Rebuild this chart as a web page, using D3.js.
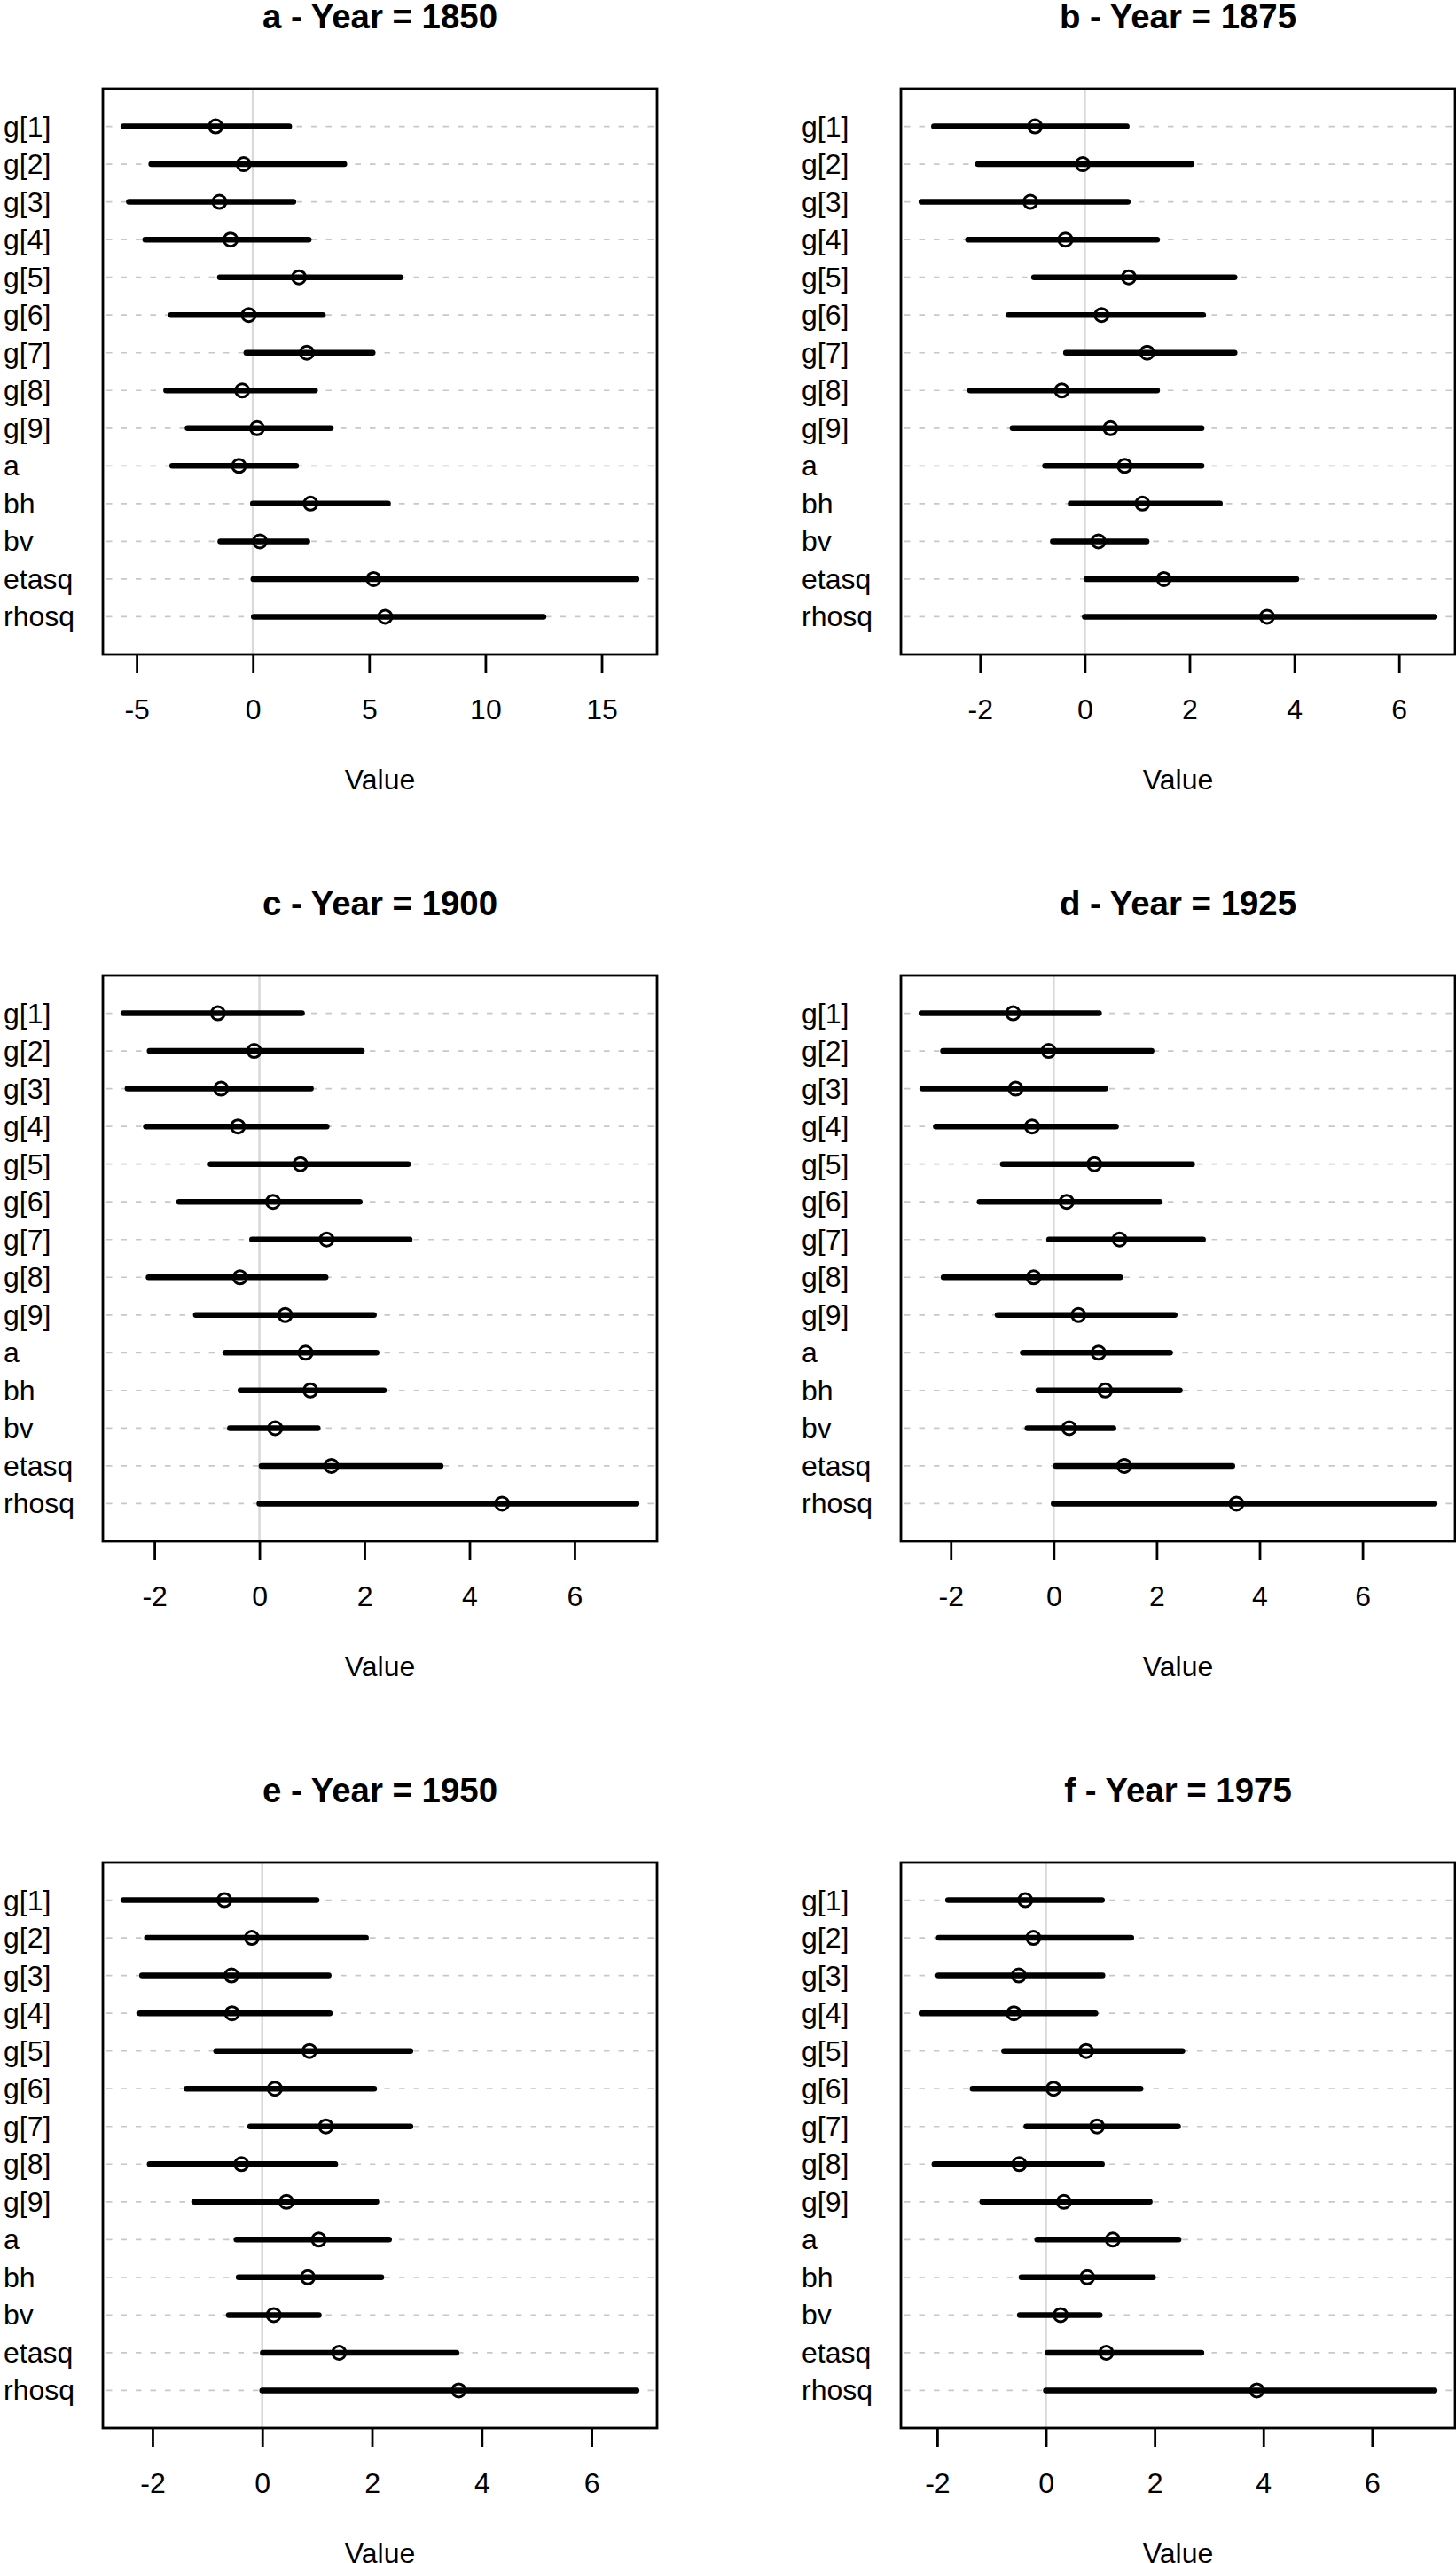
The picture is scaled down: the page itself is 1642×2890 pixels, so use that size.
<!DOCTYPE html>
<html>
<head>
<meta charset="utf-8">
<script src="https://cdn.jsdelivr.net/npm/d3@7"></script>
<style>
  html, body { margin: 0; padding: 0; background: #fff; }
  svg { display: block; }
  text { font-family: "Liberation Sans", Arial, Helvetica, sans-serif; fill: #000; }
</style>
</head>
<body>
<svg id="chart"></svg>
<script>
// parameters, listed top to bottom
const params = ['g[1]', 'g[2]', 'g[3]', 'g[4]', 'g[5]', 'g[6]', 'g[7]', 'g[8]', 'g[9]',
  'a', 'bh', 'bv', 'etasq', 'rhosq'];

const letters = ['a', 'b', 'c', 'd', 'e', 'f'];
const years = [1850, 1875, 1900, 1925, 1950, 1975];

// posterior means and interval bounds
const mean1850 = [-1.60, -0.40, -1.44, -0.96, 1.98, -0.18, 2.32, -0.46, 0.18, -0.60, 2.48, 0.30, 5.19, 5.69];
const lower1850 = [-5.57, -4.37, -5.33, -4.63, -1.42, -3.53, -0.28, -3.73, -2.81, -3.47, 0.00, -1.40, 0.02, 0.04];
const upper1850 = [1.56, 3.93, 1.74, 2.40, 6.35, 3.01, 5.15, 2.67, 3.35, 1.86, 5.81, 2.34, 16.50, 12.50];

const mean1875 = [-0.95, -0.04, -1.04, -0.37, 0.84, 0.32, 1.19, -0.44, 0.49, 0.76, 1.10, 0.26, 1.51, 3.48];
const lower1875 = [-2.88, -2.04, -3.12, -2.23, -0.97, -1.46, -0.36, -2.19, -1.38, -0.76, -0.27, -0.61, 0.03, 0.00];
const upper1875 = [0.80, 2.04, 0.82, 1.38, 2.86, 2.26, 2.86, 1.38, 2.23, 2.23, 2.58, 1.18, 4.04, 6.68];

const mean1900 = [-0.79, -0.10, -0.73, -0.41, 0.78, 0.26, 1.28, -0.37, 0.49, 0.88, 0.97, 0.30, 1.37, 4.62];
const lower1900 = [-2.59, -2.09, -2.51, -2.16, -0.93, -1.53, -0.14, -2.11, -1.21, -0.65, -0.36, -0.56, 0.04, 0.00];
const upper1900 = [0.81, 1.95, 0.98, 1.28, 2.83, 1.91, 2.86, 1.26, 2.18, 2.23, 2.37, 1.11, 3.45, 7.18];

const mean1925 = [-0.79, -0.10, -0.74, -0.42, 0.79, 0.25, 1.28, -0.39, 0.48, 0.87, 1.00, 0.30, 1.37, 3.55];
const lower1925 = [-2.57, -2.15, -2.55, -2.29, -0.99, -1.44, -0.09, -2.14, -1.09, -0.60, -0.30, -0.51, 0.04, 0.00];
const upper1925 = [0.88, 1.90, 1.00, 1.21, 2.69, 2.06, 2.90, 1.29, 2.35, 2.26, 2.45, 1.16, 3.47, 7.40];

const mean1950 = [-0.69, -0.19, -0.56, -0.55, 0.86, 0.23, 1.16, -0.38, 0.44, 1.03, 0.83, 0.21, 1.40, 3.58];
const lower1950 = [-2.53, -2.10, -2.19, -2.23, -0.84, -1.38, -0.22, -2.05, -1.24, -0.47, -0.43, -0.61, 0.01, 0.00];
const upper1950 = [0.99, 1.89, 1.21, 1.23, 2.70, 2.04, 2.70, 1.33, 2.08, 2.31, 2.17, 1.03, 3.54, 6.82];

const mean1975 = [-0.38, -0.23, -0.50, -0.59, 0.74, 0.14, 0.94, -0.49, 0.33, 1.23, 0.76, 0.27, 1.11, 3.88];
const lower1975 = [-1.80, -1.97, -1.98, -2.29, -0.77, -1.35, -0.36, -2.05, -1.17, -0.16, -0.45, -0.48, 0.03, 0.00];
const upper1975 = [1.03, 1.57, 1.04, 0.91, 2.51, 1.74, 2.43, 1.03, 1.91, 2.44, 1.97, 0.99, 2.86, 7.15];

const means = [mean1850, mean1875, mean1900, mean1925, mean1950, mean1975];
const lowers = [lower1850, lower1875, lower1900, lower1925, lower1950, lower1975];
const uppers = [upper1850, upper1875, upper1900, upper1925, upper1950, upper1975];

const W = 1642;
const H = 2890;
const boxLeft = [116, 1016];
const boxW = 625;
const boxTop0 = 100;
const boxH = 638;
const rowStep = 1000;

const svg = d3.select('#chart').attr('width', W).attr('height', H);

svg.append('rect').attr('width', W).attr('height', H).attr('fill', '#fff');

function drawPanel(k) {
  const col = k % 2;
  const row = Math.floor(k / 2);
  const x0 = boxLeft[col];
  const y0 = boxTop0 + row * rowStep;
  const n = params.length;

  const data = params.map((p, i) => ({
    name: p,
    mean: means[k][i],
    lo: lowers[k][i],
    hi: uppers[k][i],
    pos: n - i
  }));

  // R style range: data extent plus 4% on each side
  const lo = d3.min(data, d => d.lo);
  const hi = d3.max(data, d => d.hi);
  const pad = (hi - lo) * 0.04;

  const x = d3.scaleLinear().domain([lo - pad, hi + pad]).range([0, boxW]);
  const y = d3.scaleLinear().domain([0, n + 1]).range([boxH, 0]);

  const g = svg.append('g').attr('transform', `translate(${x0},${y0})`);

  // dashed row guides
  g.selectAll('.guide')
    .data(data)
    .join('line')
    .attr('class', 'guide')
    .attr('x1', 4).attr('x2', boxW)
    .attr('y1', d => y(d.pos)).attr('y2', d => y(d.pos))
    .attr('stroke', '#c8c8c8')
    .attr('stroke-width', 1.7)
    .attr('stroke-dasharray', '6.5,10');

  // means (drawn first, the intervals go over them)
  g.selectAll('.point')
    .data(data)
    .join('circle')
    .attr('class', 'point')
    .attr('cx', d => x(d.mean))
    .attr('cy', d => y(d.pos))
    .attr('r', 7.5)
    .attr('fill', '#fff')
    .attr('stroke', '#000')
    .attr('stroke-width', 3);

  // intervals
  g.selectAll('.interval')
    .data(data)
    .join('line')
    .attr('class', 'interval')
    .attr('x1', d => x(d.lo)).attr('x2', d => x(d.hi))
    .attr('y1', d => y(d.pos)).attr('y2', d => y(d.pos))
    .attr('stroke', '#000')
    .attr('stroke-width', 6.5)
    .attr('stroke-linecap', 'round');

  // zero reference, translucent on top
  g.append('line')
    .attr('x1', x(0)).attr('x2', x(0))
    .attr('y1', 0).attr('y2', boxH)
    .attr('stroke', 'rgba(0,0,0,0.15)')
    .attr('stroke-width', 2.6);

  // frame
  g.append('rect')
    .attr('width', boxW).attr('height', boxH)
    .attr('fill', 'none')
    .attr('stroke', '#000')
    .attr('stroke-width', 2.8);

  // row labels, left aligned in the margin
  g.selectAll('.label')
    .data(data)
    .join('text')
    .attr('class', 'label')
    .attr('x', -112)
    .attr('y', d => y(d.pos) + 11)
    .style('font-size', '32px')
    .text(d => d.name);

  const axis = d3.axisBottom(x)
    .ticks(5)
    .tickSize(21)
    .tickPadding(29)
    .tickFormat(d3.format('d'));

  const ax = g.append('g').attr('transform', `translate(0,${boxH})`).call(axis);
  ax.select('.domain').remove();
  ax.selectAll('.tick line').attr('stroke', '#000').attr('stroke-width', 2.8);
  ax.selectAll('.tick text')
    .style('font-size', '32px')
    .style('font-family', '"Liberation Sans", Arial, Helvetica, sans-serif')
    .text(d => String(d).replace('−', '-'));
  ax.attr('font-family', null).attr('font-size', null);

  g.append('text')
    .attr('x', boxW / 2)
    .attr('y', boxH + 152)
    .attr('text-anchor', 'middle')
    .style('font-size', '32px')
    .text('Value');

  g.append('text')
    .attr('x', boxW / 2)
    .attr('y', -68)
    .attr('text-anchor', 'middle')
    .style('font-size', '38.4px')
    .style('font-weight', 'bold')
    .text(`${letters[k]} - Year = ${years[k]}`);
}

d3.range(6).forEach(drawPanel);
</script>
</body>
</html>
